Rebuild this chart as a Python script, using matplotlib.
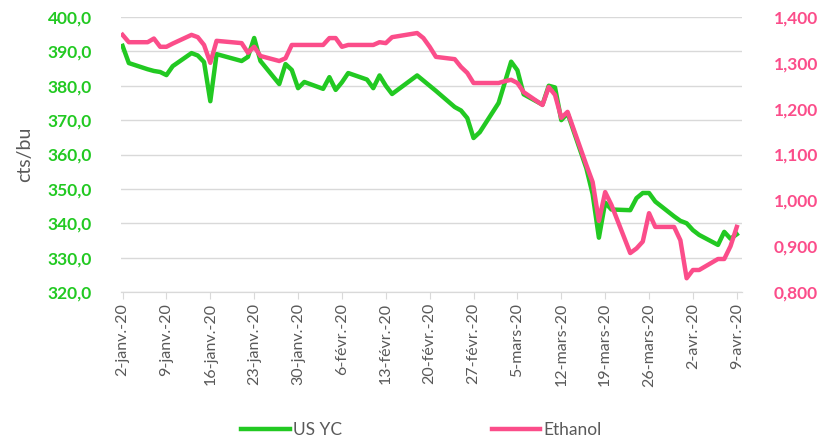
import matplotlib
matplotlib.use("Agg")
import matplotlib.pyplot as plt
import pandas as pd

plt.rcParams['font.family'] = ['Lato', 'DejaVu Sans']

dates = pd.to_datetime([
    "2020-01-02", "2020-01-03", "2020-01-06", "2020-01-07", "2020-01-08", "2020-01-09", "2020-01-10",
    "2020-01-13", "2020-01-14", "2020-01-15", "2020-01-16", "2020-01-17",
    "2020-01-21", "2020-01-22", "2020-01-23", "2020-01-24",
    "2020-01-27", "2020-01-28", "2020-01-29", "2020-01-30", "2020-01-31",
    "2020-02-03", "2020-02-04", "2020-02-05", "2020-02-06", "2020-02-07",
    "2020-02-10", "2020-02-11", "2020-02-12", "2020-02-13", "2020-02-14",
    "2020-02-18", "2020-02-19", "2020-02-20", "2020-02-21",
    "2020-02-24", "2020-02-25", "2020-02-26", "2020-02-27", "2020-02-28",
    "2020-03-02", "2020-03-03", "2020-03-04", "2020-03-05", "2020-03-06",
    "2020-03-09", "2020-03-10", "2020-03-11", "2020-03-12", "2020-03-13",
    "2020-03-16", "2020-03-17", "2020-03-18", "2020-03-19", "2020-03-20",
    "2020-03-23", "2020-03-24", "2020-03-25", "2020-03-26", "2020-03-27",
    "2020-03-30", "2020-03-31", "2020-04-01", "2020-04-02", "2020-04-03",
    "2020-04-06", "2020-04-07", "2020-04-08", "2020-04-09",
])

us_yc = [
    391.6, 386.6, 384.8, 384.3, 384.0, 383.1, 385.7,
    389.5, 388.8, 386.9, 375.5, 389.2,
    387.2, 388.4, 393.9, 387.2,
    380.5, 386.3, 384.6, 379.3, 381.1,
    379.1, 382.5, 378.8, 381.0, 383.7,
    381.8, 379.3, 383.0, 380.0, 377.6,
    383.0, 381.5, 380.0, 378.5,
    373.8, 372.8, 370.6, 364.8, 366.5,
    375.0, 381.0, 387.0, 384.5, 377.5,
    374.5, 380.0, 379.5, 370.0, 372.0,
    356.0, 348.5, 335.8, 346.0, 344.0,
    343.8, 347.3, 348.8, 348.8, 346.3,
    342.0, 340.7, 340.0, 338.0, 336.6,
    333.7, 337.5, 335.5, 336.8,
]

ethanol = [
    1.361, 1.345, 1.345, 1.353, 1.335, 1.335, 1.342,
    1.361, 1.356, 1.339, 1.300, 1.348,
    1.343, 1.322, 1.335, 1.315,
    1.304, 1.310, 1.339, 1.339, 1.339,
    1.339, 1.354, 1.354, 1.335, 1.339,
    1.339, 1.339, 1.345, 1.343, 1.356,
    1.365, 1.354, 1.335, 1.313,
    1.308, 1.291, 1.278, 1.256, 1.256,
    1.256, 1.260, 1.263, 1.256, 1.236,
    1.208, 1.247, 1.230, 1.180, 1.193,
    1.077, 1.040, 0.955, 1.018, 0.990,
    0.885, 0.895, 0.910, 0.972, 0.942,
    0.942, 0.913, 0.830, 0.848, 0.848,
    0.872, 0.872, 0.900, 0.942,
]

tick_dates = pd.date_range("2020-01-02", "2020-04-09", freq="7D")
tick_labels = ["2-janv.-20", "9-janv.-20", "16-janv.-20", "23-janv.-20", "30-janv.-20",
               "6-févr.-20", "13-févr.-20", "20-févr.-20", "27-févr.-20", "5-mars-20",
               "12-mars-20", "19-mars-20", "26-mars-20", "2-avr.-20", "9-avr.-20"]
left_ticks = [320, 330, 340, 350, 360, 370, 380, 390, 400]
right_ticks = [0.8, 0.9, 1.0, 1.1, 1.2, 1.3, 1.4]

GREEN = "#22c922"
PINK = "#fb4d8a"
GREY = "#595959"

fig = plt.figure(figsize=(8.17, 4.40), dpi=100)
ax = fig.add_axes([121/817, 1-292/440, (742-121)/817, (292-17)/440])
ax2 = ax.twinx()

l1, = ax.plot(dates, us_yc, color=GREEN, lw=3.2, solid_joinstyle="round", zorder=3)
l2, = ax2.plot(dates, ethanol, color=PINK, lw=3.2, solid_joinstyle="round", zorder=3)

ax.set_ylim(320, 400)
ax2.set_ylim(0.8, 1.4)
ax.set_xlim(tick_dates[0] - pd.Timedelta(hours=6), tick_dates[-1] + pd.Timedelta(hours=20))

ax.set_yticks(left_ticks)
ax.set_yticklabels([f"{v:.1f}".replace(".", ",") for v in left_ticks],
                   color=GREEN, fontsize=12.5, fontweight="bold")
ax2.set_yticks(right_ticks)
ax2.set_yticklabels([f"{v:.3f}".replace(".", ",") for v in right_ticks],
                    color=PINK, fontsize=12.5, fontweight="bold")

ax.set_xticks(tick_dates)
ax.set_xticklabels(tick_labels, rotation=90, color=GREY, fontsize=11.5)

ax.grid(axis="y", color="#d9d9d9", lw=1)
ax.set_axisbelow(True)
for a in (ax, ax2):
    for s in ("top", "left", "right"):
        a.spines[s].set_visible(False)
    a.spines["bottom"].set_color("#d9d9d9")
ax.tick_params(axis="y", length=0, pad=21)
ax2.tick_params(axis="y", length=0, pad=23)
ax.tick_params(axis="x", length=5, color="#d9d9d9", pad=3)

ax.set_ylabel("cts/bu", color=GREY, fontsize=14)
ax.yaxis.set_label_coords(-0.142, 0.5)

fig.legend([l1, l2], ["US YC", "Ethanol"], loc="center", bbox_to_anchor=(0.516, 0.023),
           ncol=2, frameon=False, fontsize=12.5, handlelength=2.8, handletextpad=0.2,
           columnspacing=8.6, labelcolor=GREY)

fig.savefig("out.png", dpi=100)
